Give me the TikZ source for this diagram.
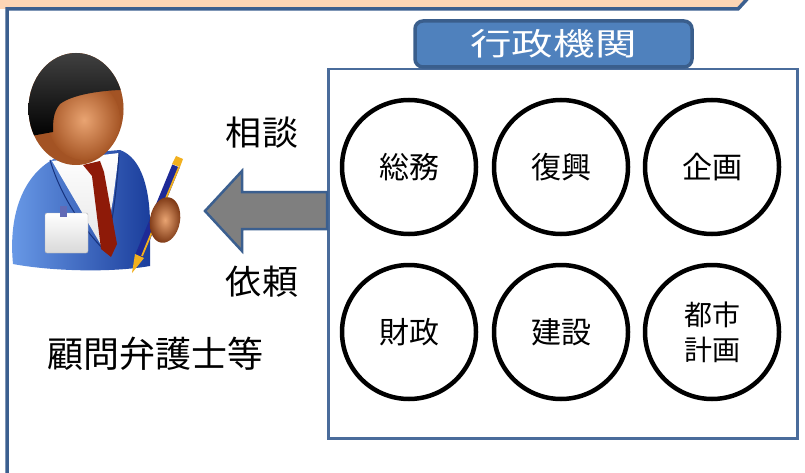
\documentclass[tikz,border=0pt]{standalone}
\usepackage{fontspec}
\usepackage{graphicx}
\setmainfont{Noto Sans CJK JP}
\definecolor{bannerfill}{HTML}{FCD5B5}
\definecolor{frameblue}{HTML}{3B5F8F}
\definecolor{boxedge}{HTML}{4A6C9B}
\definecolor{labelfill}{HTML}{4F81BD}
\definecolor{labeledge}{HTML}{3A5E8C}
\definecolor{arrowgray}{HTML}{7F7F7F}
\definecolor{bodylight}{HTML}{6A9BE8}
\definecolor{bodydark}{HTML}{1B3E9C}
\definecolor{tiered}{HTML}{8E1A08}
\definecolor{facelight}{HTML}{E9A472}
\definecolor{facemid}{HTML}{B5612C}
\definecolor{facedark}{HTML}{7A3512}
\definecolor{hairgray}{HTML}{4A4A4A}
\definecolor{penblue}{HTML}{1E2A96}
\definecolor{pengold}{HTML}{F2B01E}
\tikzset{
  dept/.style={circle, draw=black, line width=4.5pt, minimum size=134pt,
    inner sep=0pt, align=center, font=\fontsize{30}{34}\selectfont},
  bigtext/.style={font=\fontsize{34}{40}\selectfont, inner sep=0pt},
}
\begin{document}
\begin{tikzpicture}[x=1pt,y=-1pt]
\useasboundingbox (0,0) rectangle (805,473);
\fill[white] (0,0) rectangle (805,473);

% banner across the top and frame line down the left side
\fill[bannerfill] (0,-5) -- (752,-5) -- (738,9) -- (0,9) -- cycle;
\draw[frameblue, line width=3.5pt] (7,480) -- (7,9) -- (738,9) -- (749,-3);

% agencies box with its title tab
\node[draw=boxedge, line width=2.5pt, minimum width=469pt, minimum height=369pt,
  inner sep=0pt, anchor=north west] (agencies) at (327,68) {};
\node[draw=labeledge, fill=labelfill, line width=3.5pt, rounded corners=8pt,
  minimum width=277pt, minimum height=46pt, inner sep=0pt] (title) at (553.5,44)
  {\color{white}\fontsize{31}{34}\selectfont\scalebox{1.34}[1]{行政機関}};

% departments
\node[dept] (soumu)   at (409,167) {総務};
\node[dept] (fukkou)  at (561,167) {復興};
\node[dept] (kikaku)  at (712,167) {企画};
\node[dept] (zaisei)  at (409,332) {財政};
\node[dept] (kensetsu) at (561,332) {建設};
\node[dept, font=\fontsize{28}{35}\selectfont] (toshi) at (712,332) {都市\\計画};

% block arrow from the agencies towards the advisor
\coordinate (tip) at (205,211);
\filldraw[fill=arrowgray, draw=frameblue, line width=2.5pt, line join=miter]
  (tip) -- (242,171) -- (242,192) -- (agencies.west |- 0,192)
  -- (agencies.west |- 0,229) -- (242,229) -- (242,251) -- cycle;

% labels beside the arrow and under the advisor
\node[bigtext] (soudan) at (262,133) {\scalebox{1.06}[1]{相談}};
\node[bigtext] (irai)   at (262,282) {\scalebox{1.06}[1]{依頼}};
\node[font=\fontsize{36}{40}\selectfont, inner sep=0pt] (advisor) at (155,354) {顧問弁護士等};

% ---- advisor figure ----
% jacket
\shade[left color=bodylight, right color=bodydark]
  (13,264) .. controls (8,213) and (24,170) .. (62,155) -- (120,150)
  .. controls (142,158) and (150,190) .. (150,225) -- (150,266)
  .. controls (110,273) and (50,271) .. (13,264) -- cycle;
% shirt
\shade[top color=white, bottom color=gray!20]
  (52,161) -- (119,153) -- (113,200) -- (104,250) -- cycle;
% lapels
\draw[bodydark!80!black, line width=1pt] (50,160) .. controls (62,200) and (85,230) .. (104,250);
\draw[bodydark!80!black, line width=1pt] (119,153) .. controls (117,190) and (112,225) .. (106,250);
% tie
\fill[tiered] (83,165) -- (100,161) -- (104,172) -- (117,244) -- (111,257)
  -- (101,249) -- (92,176) -- cycle;
% badge
\shade[top color=white, bottom color=gray!30, draw=gray!60, rounded corners=2pt]
  (45,213) rectangle (88,253);
\fill[penblue!70] (60,206) rectangle (67,217);
% head
\fill[facemid] (76,109) ellipse [x radius=47.5, y radius=56];
\fill[facedark, opacity=0.3] (76,109) ellipse [x radius=47.5, y radius=56];
\shade[inner color=facelight, outer color=facemid!75!facedark] (84,120) ellipse [x radius=36, y radius=40];
\begin{scope}
  \clip (76,109) ellipse [x radius=47.5, y radius=56];
  \shade[top color=hairgray, bottom color=black]
    (20,40) -- (135,40) -- (135,90) .. controls (112,89) and (74,93) .. (60,104)
    .. controls (53,112) and (53,122) .. (53,132) -- (20,138) -- cycle;
\end{scope}
% pen
\draw[penblue, line width=8pt] (139,256) -- (176,166);
\draw[pengold, line width=1.8pt] (142,256) -- (179,167);
\fill[pengold] (132,273) -- (135,254) -- (144,258) -- cycle;
\fill[pengold] (172,164) -- (180,167) -- (183,159) -- (176,156) -- cycle;
% hand
\shade[inner color=facelight, outer color=facedark, rotate around={-10:(165,220)}]
  (165,220) ellipse [x radius=15, y radius=23];
\end{tikzpicture}
\end{document}
